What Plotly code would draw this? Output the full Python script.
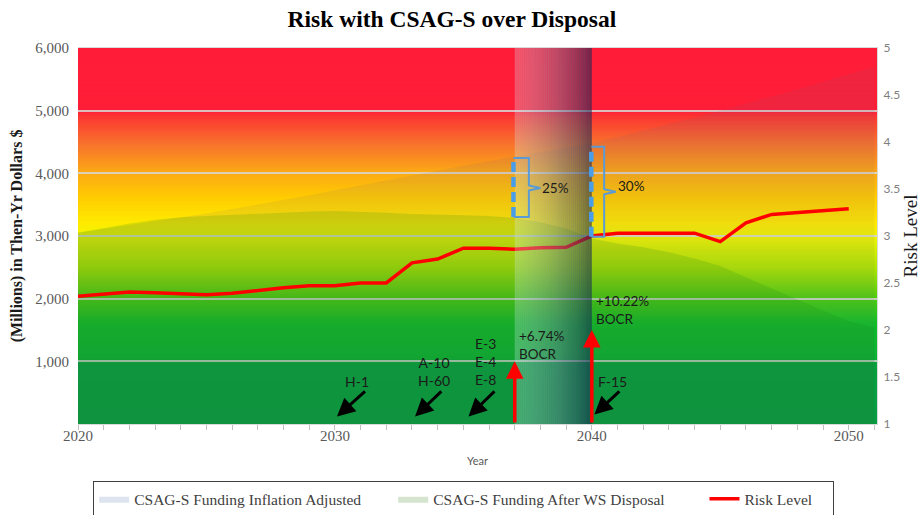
import plotly.graph_objects as go

# ---------------- data ----------------
years = list(range(2020, 2051))
risk_level = [2.36, 2.385, 2.405, 2.395, 2.385, 2.375, 2.39, 2.42, 2.45, 2.47,
              2.47, 2.50, 2.50, 2.715, 2.755, 2.87, 2.87, 2.86, 2.875, 2.88,
              3.00, 3.03, 3.03, 3.03, 3.03, 2.94, 3.14, 3.23, 3.25, 3.27, 3.29]

fund_years = list(range(2020, 2052))
funding_inflation = [3050, 3110, 3170, 3230, 3295, 3360, 3430, 3500, 3575, 3650,
                     3730, 3805, 3880, 3960, 4040, 4120, 4190, 4260, 4330, 4405,
                     4480, 4580, 4680, 4785, 4890, 5000, 5110, 5225, 5340, 5460,
                     5580, 5700]
funding_after_disposal = [3050, 3130, 3200, 3260, 3300, 3320, 3340, 3360, 3380, 3390,
                          3400, 3390, 3370, 3350, 3335, 3330, 3320, 3290, 3220, 3120,
                          2960, 2880, 2820, 2740, 2640, 2520, 2340, 2160, 1980, 1810,
                          1640, 1540]

left_ticks = [1000, 2000, 3000, 4000, 5000, 6000]
right_ticks = [1, 1.5, 2, 2.5, 3, 3.5, 4, 4.5, 5]
x_ticks = [2020, 2030, 2040, 2050]

# aircraft disposal markers
aircraft_labels = ["H-1", "A-10<br>H-60", "E-3<br>E-4<br>E-8", "F-15"]
aircraft_tip_x = [2030.08, 2033.12, 2035.2, 2040.1]
aircraft_tip_y = [120, 120, 120, 150]
aircraft_tail_x = [2031.23, 2034.2, 2036.27, 2041.13]
aircraft_tail_y = [543, 543, 543, 543]
aircraft_label_x = [2030.85, 2033.85, 2035.88, 2040.82]
aircraft_label_y = [675, 833, 990, 675]

# BOCR increase arrows
bocr_years = [2037, 2040]
bocr_tip = [1000, 1500]
bocr_text = ["+6.74%<br>BOCR", "+10.22%<br>BOCR"]
bocr_text_y = [1266, 1824]

# funding gap brackets
gap_years = [2036.95, 2039.98]
gap_low = [3303, 2989]
gap_high = [4245, 4425]
gap_mid = [3766, 3707]
gap_text = ["25%", "30%"]
gap_text_y = [3771, 3790]

band_start, band_end = 2037, 2040

# ---------------- styling ----------------
SERIF = "Liberation Serif"
SANS = "Lato"
GRAY = "#595959"
NB = "\u00a0"

bg_stops = [(0, (5, 158, 66)), (950, (5, 160, 64)), (1050, (10, 180, 50)),
            (1600, (15, 190, 40)), (2000, (75, 205, 15)), (2500, (175, 230, 0)),
            (3000, (240, 245, 0)), (3200, (255, 235, 0)), (3600, (255, 205, 0)),
            (4000, (252, 170, 20)), (4500, (248, 110, 45)), (4900, (252, 55, 50)),
            (5000, (255, 30, 55)), (6000, (255, 28, 56))]


def bg_color(v):
    for (v0, c0), (v1, c1) in zip(bg_stops[:-1], bg_stops[1:]):
        if v0 <= v <= v1:
            t = (v - v0) / (v1 - v0)
            return "rgb(%d,%d,%d)" % tuple(round(a + (b - a) * t) for a, b in zip(c0, c1))
    return "rgb(%d,%d,%d)" % bg_stops[-1][1]


shapes = []
step = 40
for i in range(0, 6000, step):
    shapes.append(dict(type="rect", xref="x domain", yref="y", x0=0, x1=1,
                       y0=i, y1=min(i + step * 1.8, 6000), fillcolor=bg_color(i + step / 2),
                       line=dict(width=0), layer="below"))

# gradient band between 2037 and 2040
n = 40
c_start = (215, 240, 250, 0.28)
c_end = (22, 40, 85, 0.6)
for k in range(n):
    t = (k + 0.5) / n
    c = [a + (b - a) * t for a, b in zip(c_start, c_end)]
    x0 = band_start + (band_end - band_start) * k / n
    x1 = band_start + (band_end - band_start) * (k + 1) / n
    shapes.append(dict(type="rect", xref="x", yref="y", x0=x0, x1=x1, y0=0, y1=6000,
                       fillcolor="rgba(%d,%d,%d,%.3f)" % (c[0], c[1], c[2], c[3]),
                       line=dict(width=0), layer="above"))

# brackets
for gx, lo, hi, mid, w in zip(gap_years, gap_low, gap_high, gap_mid, [0.6, 0.5]):
    shapes.append(dict(type="line", xref="x", yref="y", x0=gx, x1=gx, y0=lo, y1=hi,
                       line=dict(color="#4a9ee8", width=4.5, dash="10px,5px"), layer="above"))
    xr = gx + w
    path = (f"M {gx} {hi} L {xr} {hi} L {xr} {mid + 40} L {xr + 0.45} {mid} "
            f"L {xr} {mid - 40} L {xr} {lo} L {gx} {lo}")
    shapes.append(dict(type="path", xref="x", yref="y", path=path,
                       line=dict(color="#5b9bd5", width=2), layer="above"))

annotations = []
for lab, tx, ty, ax, ay, lx, ly in zip(aircraft_labels, aircraft_tip_x, aircraft_tip_y,
                                       aircraft_tail_x, aircraft_tail_y,
                                       aircraft_label_x, aircraft_label_y):
    annotations.append(dict(x=tx, y=ty, ax=ax, ay=ay, xref="x", yref="y", axref="x", ayref="y",
                            text="", showarrow=True, arrowhead=2, arrowsize=1.2,
                            arrowwidth=3, arrowcolor="#000000", standoff=0, startstandoff=0))
    annotations.append(dict(x=lx, y=ly, xref="x", yref="y", text=lab, showarrow=False,
                            font=dict(family=SANS, size=14, color="#1a1a1a"),
                            align="center"))

for bx, tip, txt, ty in zip(bocr_years, bocr_tip, bocr_text, bocr_text_y):
    annotations.append(dict(x=bx, y=tip, ax=bx, ay=0, xref="x", yref="y", axref="x", ayref="y",
                            text="", showarrow=True, arrowhead=2, arrowsize=1,
                            arrowwidth=3.5, arrowcolor="#ff0000", standoff=0, startstandoff=0))
    annotations.append(dict(x=bx + 0.08, y=ty, xref="x", yref="y", text=txt, showarrow=False,
                            xanchor="left", align="left",
                            font=dict(family=SANS, size=13.5, color="#1a1a1a")))

for gx, w, txt, ty in zip(gap_years, [0.6, 0.5], gap_text, gap_text_y):
    annotations.append(dict(x=gx + w + 0.45, y=ty, xref="x", yref="y", text=txt,
                            showarrow=False, xanchor="left",
                            font=dict(family=SANS, size=13.5, color="#1a1a1a")))

fig = go.Figure()

fig.add_trace(go.Scatter(x=fund_years, y=funding_inflation, mode="lines", fill="tozeroy",
                         fillcolor="rgba(110,100,130,0.10)", line=dict(width=0),
                         showlegend=False, hoverinfo="skip"))
fig.add_trace(go.Scatter(x=fund_years, y=funding_after_disposal, mode="lines", fill="tozeroy",
                         fillcolor="rgba(20,130,20,0.16)", line=dict(width=0),
                         showlegend=False, hoverinfo="skip"))
fig.add_trace(go.Scatter(x=years, y=risk_level, yaxis="y2", mode="lines",
                         line=dict(color="#ff0000", width=3.5), showlegend=False))

# legend entries
fig.add_trace(go.Scatter(x=[None], y=[None], mode="lines", fill="toself",
                         fillcolor="#dde3ef", line=dict(width=0, color="#dde3ef"),
                         name="CSAG-S Funding Inflation Adjusted" + NB * 7))
fig.add_trace(go.Scatter(x=[None], y=[None], mode="lines", fill="toself",
                         fillcolor="#d5e4cf", line=dict(width=0, color="#d5e4cf"),
                         name="CSAG-S Funding After WS Disposal" + NB * 9))
fig.add_trace(go.Scatter(x=[None], y=[None], mode="lines",
                         line=dict(color="#ff0000", width=3.5), name="Risk Level" + NB * 4))

fig.update_layout(
    width=924, height=515,
    margin=dict(l=78, r=47, t=48, b=91, autoexpand=False),
    paper_bgcolor="white", plot_bgcolor="white",
    title=dict(text="<b>Risk with CSAG-S over Disposal</b>", x=0.468, xref="paper",
               xanchor="center", y=0.963, yanchor="middle",
               font=dict(family=SERIF, size=23.5, color="#000000")),
    xaxis=dict(range=[2020, 2051.1], tickvals=x_ticks, ticks="outside", ticklen=5,
               tickcolor="#bfbfbf", showgrid=False, zeroline=False, automargin=False,
               showline=True, linecolor="#d9d9d9", mirror=True,
               minor=dict(dtick=1, ticks="outside", ticklen=5, tickcolor="#bfbfbf",
                          showgrid=False),
               tickfont=dict(family=SERIF, size=15, color=GRAY),
               ticklabelstandoff=-7,
               title=dict(text="Year", font=dict(family=SANS, size=11, color=GRAY),
                          standoff=14)),
    yaxis=dict(range=[0, 6000], tickvals=left_ticks, automargin=False,
               ticktext=[f"{v:,}" for v in left_ticks],
               tickfont=dict(family=SERIF, size=15, color=GRAY),
               showgrid=True, gridcolor="rgba(215,215,215,0.85)", gridwidth=1.5,
               zeroline=False, ticks="", ticklabelstandoff=8,
               title=dict(text="<b>(Millions) in Then-Yr Dollars $</b>",
                          font=dict(family=SERIF, size=16, color="#1a1a1a"), standoff=8)),
    yaxis2=dict(range=[1, 5], tickvals=right_ticks, overlaying="y", side="right",
                showgrid=False, zeroline=False, ticks="", automargin=False,
                showline=True, linecolor="#d9d9d9",
                tickfont=dict(family=SANS, size=12, color="#7f7f7f"),
                ticklabelstandoff=3,
                title=dict(text="Risk Level", font=dict(family=SERIF, size=19, color="#1a1a1a"),
                           standoff=0)),
    legend=dict(orientation="h", x=0.019, xanchor="left", y=-0.152, yanchor="top",
                bordercolor="#404040", borderwidth=1,
                font=dict(family=SERIF, size=15.5, color="#404040")),
    shapes=shapes,
    annotations=annotations,
)

fig.write_html("out.html", config={"displayModeBar": False},
               post_script="document.body.style.margin='0px';")
